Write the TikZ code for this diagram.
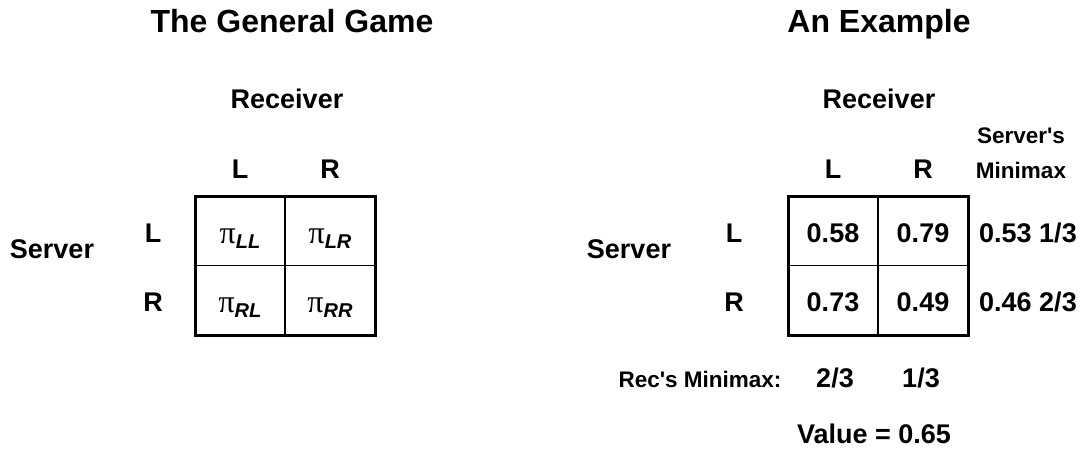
\documentclass[tikz,border=0pt]{standalone}
\usepackage{fontspec}
\setmainfont{Liberation Sans}
\newfontfamily\grec{Liberation Serif}
\usepackage{tikz}
\usetikzlibrary{positioning}
\newcommand{\gain}[1]{{\grec\fontsize{32}{34}\selectfont π}\raisebox{-5pt}{\fontsize{20}{22}\selectfont\bfseries\itshape #1}}

\begin{document}
\begin{tikzpicture}[x=1pt,y=-1pt,
  titre/.style={font=\fontsize{32}{35}\selectfont\bfseries,anchor=base},
  lab/.style={font=\fontsize{27}{30}\selectfont\bfseries,anchor=base},
  petit/.style={font=\fontsize{22.5}{24}\selectfont\bfseries,anchor=base},
  grille/.style={draw,line width=3pt,minimum width=180pt,minimum height=139pt,inner sep=0pt},
  fin/.style={line width=1.4pt}]
  \useasboundingbox (0,0) rectangle (1088,450);

  % Jeu general.
  \node[titre] (titreg) at (292,32) {The General Game};
  \node[lab] (recg) at (287,108) {Receiver};
  \node[lab] (cgl) at (240,178) {L};
  \node[lab] (cgr) at (330,178) {R};
  \node[lab] (serg) at (52,258) {Server};
  \node[lab] (lgl) at (153,242) {L};
  \node[lab] (lgr) at (153,311) {R};
  \node[grille] (boxg) at (285,265.5) {};
  \draw[fin] (boxg.north) -- (boxg.south);
  \draw[fin] (boxg.west) -- (boxg.east);
  \node[anchor=base] (pll) at (240,243) {\gain{LL}};
  \node[anchor=base] (plr) at (330,243) {\gain{LR}};
  \node[anchor=base] (prl) at (240,312) {\gain{RL}};
  \node[anchor=base] (prr) at (330,312) {\gain{RR}};

  % Exemple.
  \node[titre] (titree) at (879,32) {An Example};
  \node[lab] (rece) at (879,108) {Receiver};
  \node[petit] (sminu) at (1021,143) {Server\textquotesingle s};
  \node[petit] (smind) at (1021,178) {Minimax};
  \node[lab] (cel) at (833,178) {L};
  \node[lab] (cer) at (923,178) {R};
  \node[lab] (sere) at (629,258) {Server};
  \node[lab] (lel) at (734,242) {L};
  \node[lab] (ler) at (734,311) {R};
  \node[grille] (boxe) at (878,265.5) {};
  \draw[fin] (boxe.north) -- (boxe.south);
  \draw[fin] (boxe.west) -- (boxe.east);
  \node[lab] (vll) at (833,242) {0.58};
  \node[lab] (vlr) at (923,242) {0.79};
  \node[lab] (vrl) at (833,311) {0.73};
  \node[lab] (vrr) at (923,311) {0.49};
  \node[lab] (msl) at (1028,242) {0.53 1/3};
  \node[lab] (msr) at (1028,311) {0.46 2/3};
  \node[petit] (mrec) at (700,387) {Rec\textquotesingle s Minimax:};
  \node[lab] (mrl) at (835,387) {2/3};
  \node[lab] (mrr) at (921,387) {1/3};
  \node[lab] (val) at (874,443) {Value = 0.65};
\end{tikzpicture}
\end{document}
